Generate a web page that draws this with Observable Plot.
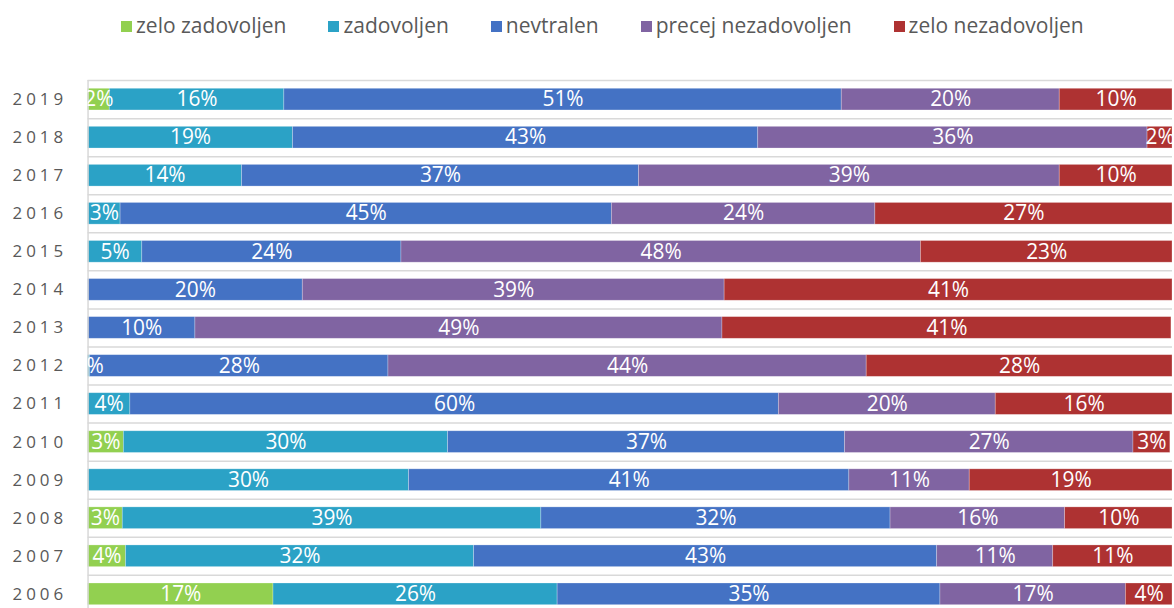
<!DOCTYPE html>
<html>
<head>
<meta charset="utf-8">
<script src="https://cdn.jsdelivr.net/npm/d3@7"></script>
<script src="https://cdn.jsdelivr.net/npm/@observablehq/plot@0.6"></script>
<style>
  html, body { margin: 0; padding: 0; overflow: hidden; background: #fff; width: 1174px; height: 608px; }
  #wrap { position: relative; width: 1174px; height: 608px; }
  #legend { position: absolute; top: 10px; left: 121px; display: flex; gap: 42px;
            font-family: "Open Sans", sans-serif; font-size: 21px; color: #595959; line-height: 30px; white-space: nowrap; }
  .item { display: flex; align-items: center; }
  .sw { width: 11px; height: 11px; margin-right: 4px; margin-top: 2px; }
  #chart { position: absolute; top: 0; left: 0; }
  #chart svg { display: block; overflow: hidden; }
  g[aria-label="y-axis tick label"] text { letter-spacing: 4px; }
</style>
</head>
<body>
<div id="wrap">
  <div id="legend"></div>
  <div id="chart"></div>
</div>
<script>
const years = ["2019","2018","2017","2016","2015","2014","2013","2012","2011","2010","2009","2008","2007","2006"];
const categories = ["zelo zadovoljen","zadovoljen","nevtralen","precej nezadovoljen","zelo nezadovoljen"];
const colors = ["#92d050","#2ba2c6","#4472c4","#8064a2","#ae3232"];

const zeloZadovoljen     = [2.0,  0,    0,    0,    0,    0,    0,    0,    0,    3.3,  0,    3.2,  3.5,  17.1];
const zadovoljen         = [16.1, 18.9, 14.2, 3.0,  5.0,  0,    0,    0.2,  3.9,  29.9, 29.6, 38.6, 32.1, 26.2];
const nevtralen          = [51.4, 42.9, 36.6, 45.3, 23.9, 19.8, 9.9,  27.5, 59.8, 36.6, 40.6, 32.2, 42.7, 35.3];
const precejNezadovoljen = [20.1, 35.9, 38.8, 24.3, 47.9, 38.9, 48.6, 44.1, 20.0, 26.6, 11.1, 16.1, 10.7, 17.1];
const zeloNezadovoljen   = [10.4, 2.3,  10.4, 27.4, 23.2, 41.3, 41.4, 28.2, 16.3, 3.4,  18.7, 9.9,  11.0, 4.3];

const series = [zeloZadovoljen, zadovoljen, nevtralen, precejNezadovoljen, zeloNezadovoljen];
const table = [];
years.forEach((year, i) => {
  categories.forEach((category, j) => {
    const value = series[j][i];
    if (value > 0) table.push({year, category, value});
  });
});

// legend
const legend = document.getElementById("legend");
categories.forEach((c, j) => {
  const item = document.createElement("div");
  item.className = "item";
  const sw = document.createElement("span");
  sw.className = "sw";
  sw.style.background = colors[j];
  const t = document.createElement("span");
  t.textContent = c;
  item.appendChild(sw);
  item.appendChild(t);
  legend.appendChild(item);
});

const marginTop = 80.5, marginBottom = 1, H = 617;
const step = (H - marginTop - marginBottom) / years.length;

const chart = Plot.plot({
  width: 1180,
  height: H,
  marginLeft: 88,
  marginRight: 2,
  marginTop,
  marginBottom,
  style: {fontFamily: "Open Sans, sans-serif", background: "transparent"},
  x: {domain: [0, 100], axis: null},
  y: {domain: years, paddingInner: 0.43, paddingOuter: 0.215, round: false, label: null, axis: null},
  color: {domain: categories, range: colors},
  marks: [
    Plot.ruleY(years, {y: d => d, dy: -step / 2, stroke: "#d9d9d9", strokeWidth: 1.5}),
    Plot.ruleY(years.slice(-1), {y: d => d, dy: step / 2, stroke: "#d9d9d9", strokeWidth: 1.5}),
    Plot.barX(table, Plot.stackX({x: "value", y: "year", fill: "category", order: categories,
      stroke: "white", strokeOpacity: 0.35, strokeWidth: 0.75})),
    Plot.ruleX([0], {stroke: "#d9d9d9", strokeWidth: 1.5}),
    Plot.textX(table, Plot.stackX({x: "value", y: "year", z: "category", order: categories,
      text: d => Math.round(d.value) + "%", fill: "white", fontSize: 21, clip: true})),
    Plot.axisY({tickSize: 0, tickPadding: 21, fontSize: 17, color: "#595959", label: null})
  ]
});
document.getElementById("chart").appendChild(chart);
</script>
</body>
</html>
